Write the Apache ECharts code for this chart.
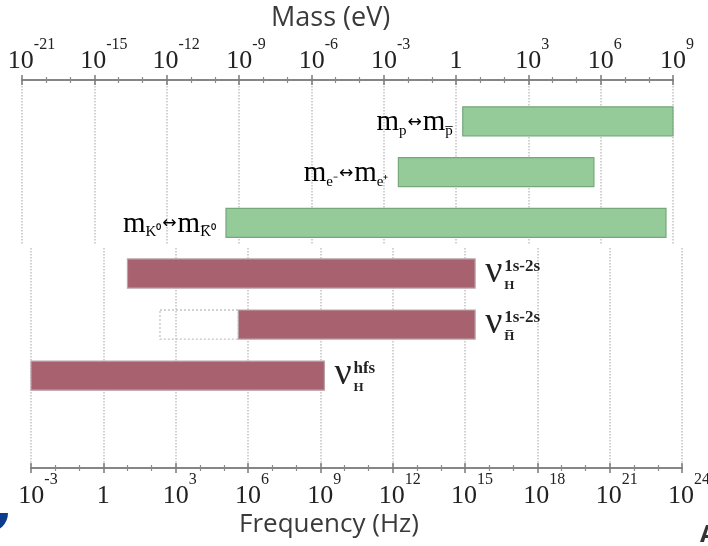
<!DOCTYPE html>
<html><head><meta charset="utf-8">
<script src="https://cdn.jsdelivr.net/npm/echarts@6/dist/echarts.min.js"></script>
<style>html,body{margin:0;padding:0;background:#fff}#c{width:708px;height:546px}</style>
</head><body><div id="c"></div>
<script>
// ---- tick labels (shared log10(frequency/Hz) scale, one tick every 3 decades) ----
const freqTicks = ['10^-3','1','10^3','10^6','10^9','10^12','10^15','10^18','10^21','10^24'];
const massTicks = ['10^-21','10^-15','10^-12','10^-9','10^-6','10^-3','1','10^3','10^6','10^9'];

// ---- upper panel: mass comparisons (range in log10 Hz units of the shared scale) ----
const massLabels = [
  '{m|m}{s|p}{a|↔}{m|m}{s|p\u0305}',
  '{m|m}{s|e⁻}{a|↔}{m|m}{s|e⁺}',
  '{m|m}{s|K⁰}{a|↔}{m|m}{s|K\u0305⁰}'
];
const massStart = [15.28, 12.61, 5.46];
const massEnd   = [24.0, 20.72, 23.71];

// ---- lower panel: hydrogen / antihydrogen spectroscopy ----
const freqSup   = ['1s-2s', '1s-2s', 'hfs'];
const freqSub   = ['H', 'H\u0305', 'H'];
const freqStart = [1.0, 5.6, -3.0];
const freqEnd   = [15.42, 15.42, 9.17];
const freqExtStart = [null, 2.35, null];   // dotted (projected) extension

const GREEN = '#94cb98', GREEN_EDGE = '#76a87b';
const RED = '#a8626f', RED_EDGE = '#b9a3a8';
const BAR_H = 0.57;
const SERIF = 'Liberation Serif';

function tickFmt(list) {
  return function (v) {
    const idx = Math.round((v + 3) / 3);
    const t = list[idx];
    if (t === undefined) return '';
    const parts = t.split('^');
    if (parts.length === 1) return '{p0|}{b|' + t + '}';
    return '{p' + parts[1].length + '|}{b|' + parts[0] + '}{s|' + parts[1] + '}';
  };
}
const tickRich = {
  b: {fontFamily: SERIF, fontSize: 26, color: '#222', lineHeight: 30, verticalAlign: 'bottom'},
  s: {fontFamily: SERIF, fontSize: 16, color: '#222', lineHeight: 16, verticalAlign: 'top'},
  p0: {width: 0, lineHeight: 37},
  p1: {width: 8, lineHeight: 37},
  p2: {width: 14, lineHeight: 37},
  p3: {width: 19, lineHeight: 37}
};

const massRich = {
  m: {fontFamily: SERIF, fontSize: 29, color: '#222', lineHeight: 32, verticalAlign: 'middle'},
  s: {fontFamily: SERIF, fontSize: 15, color: '#222', lineHeight: 15, verticalAlign: 'bottom'},
  a: {fontFamily: 'DejaVu Sans', fontSize: 17, color: '#222', lineHeight: 32, verticalAlign: 'middle', padding: [0, 1, 0, 1]}
};

function renderMass(params, api) {
  const i = params.dataIndex;
  const p0 = api.coord([api.value(0), api.value(2)]);
  const p1 = api.coord([api.value(1), api.value(2)]);
  const h = api.size([0, BAR_H])[1];
  return {type: 'group', children: [
    {type: 'rect', shape: {x: p0[0], y: p0[1] - h / 2, width: p1[0] - p0[0], height: h},
     style: {fill: GREEN, stroke: GREEN_EDGE, lineWidth: 1.2}},
    {type: 'text', x: p0[0] - 10, y: p0[1] + 1,
     style: {text: massLabels[i], rich: massRich, align: 'right', verticalAlign: 'middle'}}
  ]};
}

function renderFreq(params, api) {
  const i = params.dataIndex;
  const p0 = api.coord([api.value(0), api.value(2)]);
  const p1 = api.coord([api.value(1), api.value(2)]);
  const h = api.size([0, BAR_H])[1];
  const children = [];
  if (freqExtStart[i] !== null) {
    const q = api.coord([freqExtStart[i], api.value(2)]);
    children.push({type: 'rect', shape: {x: q[0], y: p0[1] - h / 2, width: p0[0] - q[0], height: h},
      style: {fill: 'none', stroke: '#c4c4c4', lineWidth: 1.3, lineDash: [2, 2]}});
  }
  children.push({type: 'rect', shape: {x: p0[0], y: p0[1] - h / 2, width: p1[0] - p0[0], height: h},
    style: {fill: RED, stroke: RED_EDGE, lineWidth: 1.2}});
  const lx = p1[0] + 10, cy = p0[1];
  children.push({type: 'text', x: lx, y: cy - 2,
    style: {text: 'ν', font: '38px "Liberation Serif"', fill: '#222', align: 'left', verticalAlign: 'middle'}});
  children.push({type: 'text', x: lx + 19, y: cy - 7,
    style: {text: freqSup[i], font: 'bold 17px "Liberation Serif"', fill: '#222', align: 'left', verticalAlign: 'middle'}});
  children.push({type: 'text', x: lx + 19, y: cy + 12,
    style: {text: freqSub[i], font: 'bold 13px "Liberation Serif"', fill: '#222', align: 'left', verticalAlign: 'middle'}});
  return {type: 'group', children: children};
}

const axisBase = {
  type: 'value', min: -3, max: 24, interval: 3,
  axisLine: {show: true, onZero: false, lineStyle: {color: '#868686', width: 2}},
  axisTick: {show: true, length: 5, lineStyle: {color: '#7a7a7a', width: 1.5}},
  minorTick: {show: true, splitNumber: 3, length: 3, lineStyle: {color: '#8a8a8a', width: 1.2}},
  splitLine: {show: true, lineStyle: {color: '#c2c2c2', width: 1.5, type: [1.5, 1.5]}}
};
const tickOnly = {
  type: 'value', min: -3, max: 24, interval: 3,
  axisLine: {show: false, onZero: false}, axisLabel: {show: false}, splitLine: {show: false},
  axisTick: {show: true, inside: true, length: 5, lineStyle: {color: '#7a7a7a', width: 1.5}},
  minorTick: {show: true, splitNumber: 3, length: 3, lineStyle: {color: '#8a8a8a', width: 1.2}}
};

const chart = echarts.init(document.getElementById('c'), null, {renderer: 'canvas'});
chart.setOption({
  animation: false,
  backgroundColor: '#fff',
  title: [
    {text: 'Mass (eV)', left: 271, top: 5, padding: 0,
     textStyle: {fontFamily: 'Open Sans', fontSize: 27, fontWeight: 'normal', color: '#3a3a3a'}},
    {text: 'Frequency (Hz)', left: 239, top: 512, padding: 0,
     textStyle: {fontFamily: 'Open Sans', fontSize: 26, fontWeight: 'normal', color: '#3a3a3a'}}
  ],
  grid: [
    {left: 22, width: 651, top: 80, height: 165, outerBoundsMode: 'none', containLabel: false},
    {left: 31, width: 651, top: 248, height: 220, outerBoundsMode: 'none', containLabel: false}
  ],
  xAxis: [
    Object.assign({}, axisBase, {gridIndex: 0, position: 'top',
      axisLabel: {margin: 6, formatter: tickFmt(massTicks), rich: tickRich}}),
    Object.assign({}, axisBase, {gridIndex: 1, position: 'bottom',
      axisLabel: {margin: 4, formatter: tickFmt(freqTicks), rich: tickRich}}),
    Object.assign({}, tickOnly, {gridIndex: 0, position: 'top'}),
    Object.assign({}, tickOnly, {gridIndex: 1, position: 'bottom'})
  ],
  yAxis: [
    {gridIndex: 0, type: 'value', inverse: true, min: -0.813, max: 2.435, show: false},
    {gridIndex: 1, type: 'value', inverse: true, min: -0.5, max: 3.81, show: false}
  ],
  series: [
    {type: 'custom', xAxisIndex: 0, yAxisIndex: 0, renderItem: renderMass,
     encode: {x: [0, 1], y: 2},
     data: massStart.map((s, i) => [s, massEnd[i], i])},
    {type: 'custom', xAxisIndex: 1, yAxisIndex: 1, renderItem: renderFreq,
     encode: {x: [0, 1], y: 2},
     data: freqStart.map((s, i) => [s, freqEnd[i], i])}
  ],
  graphic: [
    {type: 'sector', shape: {cx: -11, cy: 513, r: 19, startAngle: 0, endAngle: Math.PI / 2},
     style: {fill: '#0d3c8c'}},
    {type: 'text', left: 700, top: 523, style: {text: 'A', font: 'bold 24px "Open Sans"', fill: '#333'}}
  ]
});
</script>
</body></html>
